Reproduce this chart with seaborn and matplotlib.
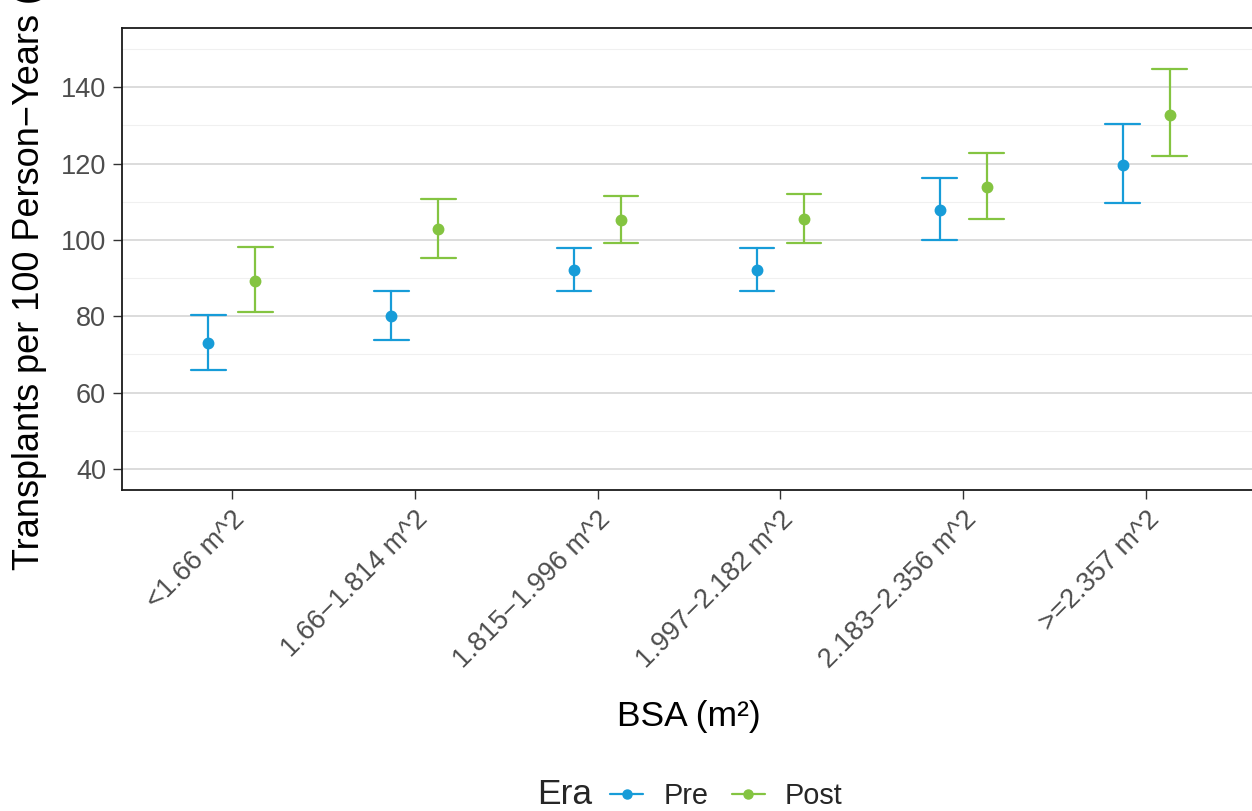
import numpy as np
import pandas as pd
import matplotlib
matplotlib.use("Agg")
import matplotlib.pyplot as plt
from matplotlib.lines import Line2D
import seaborn as sns

# BSA categories and rates (estimate, lower CI, upper CI)
categories = ["<1.66 m^2", "1.66\u22121.814 m^2", "1.815\u22121.996 m^2",
              "1.997\u22122.182 m^2", "2.183\u22122.356 m^2", ">=2.357 m^2"]
eras = ["Pre", "Post"]

pre_est = [73.0, 80.0, 92.1, 92.1, 107.8, 119.6]
pre_lo = [65.9, 73.8, 86.6, 86.6, 99.9, 109.6]
pre_hi = [80.3, 86.6, 97.9, 97.9, 116.2, 130.3]

post_est = [89.3, 102.8, 105.2, 105.4, 113.8, 132.7]
post_lo = [81.1, 95.2, 99.2, 99.2, 105.4, 121.9]
post_hi = [98.2, 110.7, 111.5, 112.0, 122.7, 144.7]

# long table: lo / est / hi per cell, pointplot takes median as the point and min/max as the bar
rows = []
for era, est, lo, hi in [("Pre", pre_est, pre_lo, pre_hi), ("Post", post_est, post_lo, post_hi)]:
    for c, e, l, h in zip(categories, est, lo, hi):
        for v in (l, e, h):
            rows.append({"BSA": c, "Era": era, "rate": v})
df = pd.DataFrame(rows)

sns.set_theme(style="white")
plt.rcParams["font.family"] = ["Liberation Sans", "DejaVu Sans"]

fig = plt.figure(figsize=(12.52, 8.11), dpi=100)
ax = fig.add_axes([122 / 1252, 1 - 490 / 811, (1256 - 122) / 1252, (490 - 28) / 811])

palette = {"Pre": "#179cd8", "Post": "#84c441"}
sns.pointplot(data=df, x="BSA", y="rate", hue="Era", hue_order=eras, order=categories,
              estimator="median", errorbar=lambda v: (v.min(), v.max()),
              dodge=0.257, capsize=0.19, linestyle="none", markers="o",
              palette=palette, err_kws={"linewidth": 1.6}, markersize=6.5, ax=ax)

ax.set_ylim(34.5, 155.5)
ax.set_xlim(-0.6, 5.6)
ax.set_yticks([40, 60, 80, 100, 120, 140])
ax.set_yticks([50, 70, 90, 110, 130, 150], minor=True)
ax.grid(axis="y", which="major", color="#d9d9d9", linewidth=1.3)
ax.grid(axis="y", which="minor", color="#f0f0f0", linewidth=0.8)
ax.grid(axis="x", visible=False)
ax.set_axisbelow(True)

for s in ax.spines.values():
    s.set_color("#1a1a1a")
    s.set_linewidth(1.3)

ax.tick_params(axis="both", which="major", length=6.5, width=1, color="#333333",
               labelcolor="#4d4d4d", labelsize=19.5, left=True, bottom=True, pad=5)
ax.tick_params(axis="y", which="minor", length=0)
plt.setp(ax.get_xticklabels(), rotation=45, ha="right", rotation_mode="anchor")

ax.set_xlabel("BSA (m\u00b2)", fontsize=25.5, color="black")
ax.xaxis.set_label_coords(0.5, -0.455)
ax.set_ylabel("Transplants per 100 Person\u2212Years (%)", fontsize=26, color="black")
ax.yaxis.set_label_coords(-0.066, 0.5)

ax.get_legend().remove()
handles = [Line2D([], [], color=palette[e], marker="o", markersize=6.5, linewidth=1.6) for e in eras]
fig.text(537 / 1252, 1 - 795 / 811, "Era", fontsize=25.5, va="center", ha="left")
fig.legend(handles, eras, ncol=2, loc="center left", bbox_to_anchor=(610 / 1252, 1 - 796 / 811),
           frameon=False, fontsize=20.8, handlelength=1.15, handletextpad=0.7,
           columnspacing=0.8, borderpad=0, borderaxespad=0)

fig.savefig("out.png", dpi=100)
